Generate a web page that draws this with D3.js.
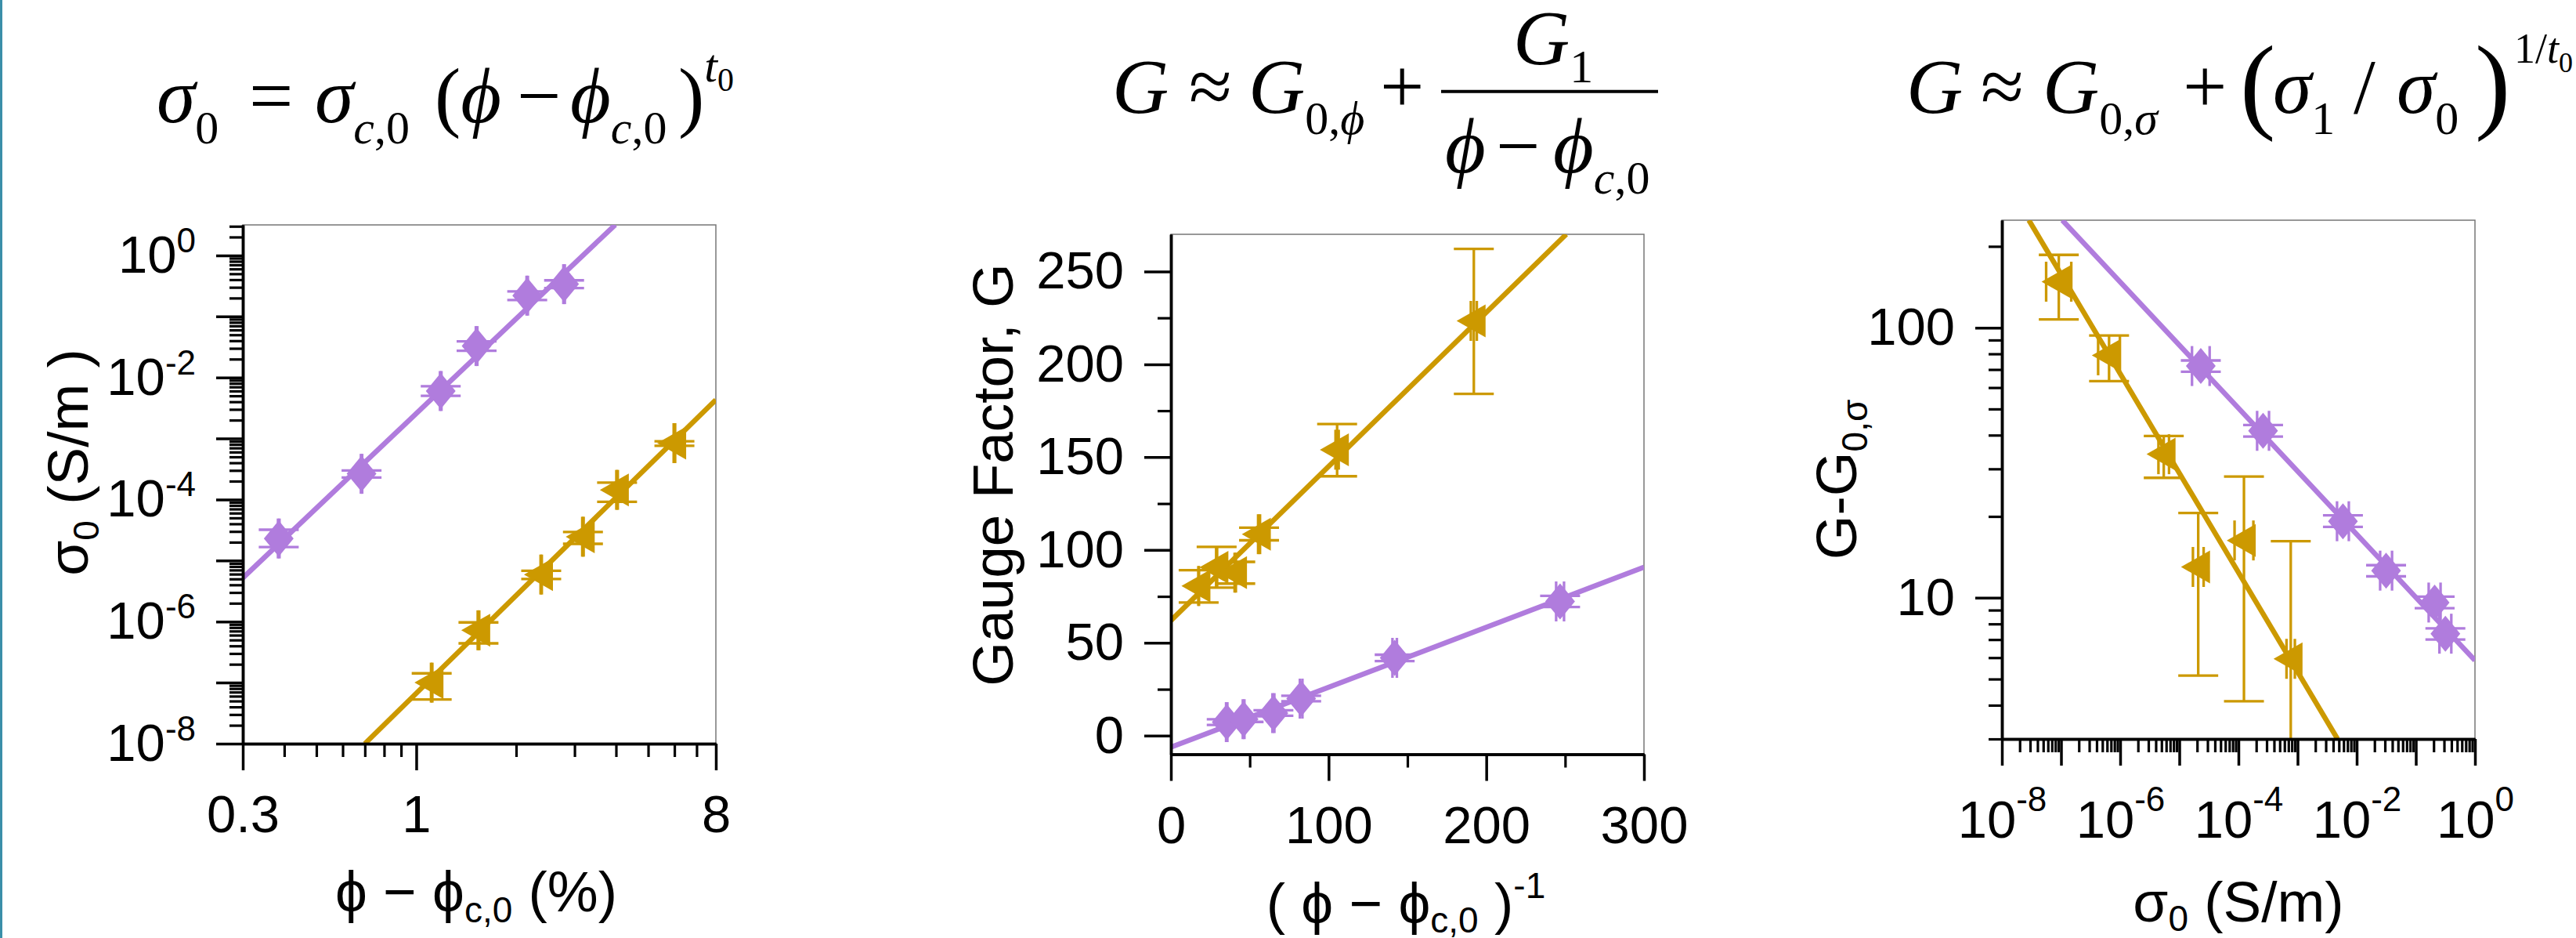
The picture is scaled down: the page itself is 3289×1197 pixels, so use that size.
<!DOCTYPE html>
<html>
<head>
<meta charset="utf-8">
<script src="https://cdn.jsdelivr.net/npm/d3@7"></script>
<style>
  body { margin: 0; background: #fff; }
  svg { display: block; }
</style>
</head>
<body>
<div id="chart"></div>
<script>
// three-panel percolation figure: sigma_0 fit, gauge factor vs 1/(phi-phic), G-G0 vs sigma_0

// ===== data =====
// rows: [x, xLo, xHi, y, yLo, yHi]

// panel A: sigma_0 (S/m) vs phi - phi_c0 (%)
const aPurple = [
  [0.385, 0.383, 0.387, 2.3e-5, 1.66e-5, 3.2e-5],
  [0.684, 0.681, 0.687, 2.64e-4, 2.3e-4, 3.0e-4],
  [1.185, 1.179, 1.191, 6.0e-3, 5.0e-3, 7.2e-3],
  [1.52, 1.512, 1.528, 0.0327, 0.0274, 0.039],
  [2.16, 2.15, 2.17, 0.219, 0.186, 0.257],
  [2.79, 2.776, 2.804, 0.338, 0.292, 0.39]
];
const aGold = [
  [1.113, 1.108, 1.118, 1.0e-7, 5.3e-8, 1.42e-7],
  [1.54, 1.532, 1.548, 7.2e-7, 4.4e-7, 9.7e-7],
  [2.38, 2.37, 2.39, 5.9e-6, 5.0e-6, 6.8e-6],
  [3.18, 3.165, 3.195, 2.46e-5, 1.88e-5, 2.94e-5],
  [4.03, 4.01, 4.05, 1.44e-4, 9.2e-5, 1.89e-4],
  [6.0, 5.97, 6.03, 8.4e-4, 7.6e-4, 9.0e-4]
];
const aPurpleFit = [[0.3, 5.18e-6], [3.98, 3.18]];
const aGoldFit = [[0.70, 1e-8], [8, 4.3e-3]];
const aXLabels = [0.3, 1, 8];
const aYDecades = [1e-8, 1e-7, 1e-6, 1e-5, 1e-4, 1e-3, 1e-2, 1e-1, 1];
const aYLabels = [1e-8, 1e-6, 1e-4, 1e-2, 1];

// panel B: gauge factor G vs (phi - phi_c0)^-1
const bPurple = [
  [35.4, 35.0, 35.8, 7.3, 5.8, 8.8],
  [46.1, 45.6, 46.6, 8.9, 7.4, 10.4],
  [65.0, 64.4, 65.6, 12.2, 10.7, 13.7],
  [82.6, 81.8, 83.4, 20.0, 18.5, 21.5],
  [141.9, 140.5, 143.3, 41.9, 40.2, 43.6],
  [246.8, 244.3, 249.3, 72.3, 69.3, 75.3]
];
const bGold = [
  [17.6, 17.4, 17.8, 80.6, 71.7, 89.1],
  [29.0, 28.7, 29.3, 90.7, 79.7, 101.7],
  [40.8, 40.4, 41.2, 87.8, 81.9, 93.6],
  [55.9, 55.3, 56.5, 108.5, 105.2, 112.0],
  [105.4, 104.4, 106.4, 154.0, 139.7, 167.8],
  [192.1, 190.2, 194.0, 223.4, 184.1, 262.1]
];
const bPurpleFit = [[0, -6.2], [300, 90.7]];
const bGoldFit = [[0, 62.0], [250.7, 270]];
const bXMajor = [0, 100, 200, 300];
const bXMinor = [50, 150, 250];
const bYMajor = [0, 50, 100, 150, 200, 250];
const bYMinor = [25, 75, 125, 175, 225];

// panel C: G - G0,sigma vs sigma_0 (S/m)
const cPurple = [
  [2.31e-5, 1.64e-5, 3.26e-5, 72.1, 68.7, 75.6],
  [2.61e-4, 2.07e-4, 3.29e-4, 41.5, 39.5, 43.6],
  [5.85e-3, 4.65e-3, 7.36e-3, 19.2, 18.3, 20.2],
  [3.14e-2, 2.49e-2, 3.96e-2, 12.6, 12.0, 13.2],
  [0.208, 0.165, 0.262, 9.6, 9.15, 10.1],
  [0.316, 0.251, 0.398, 7.36, 7.0, 7.7]
];
const cGold = [
  [9.16e-8, 5.6e-8, 1.49e-7, 148, 107.3, 186],
  [6.49e-7, 4.24e-7, 9.9e-7, 79, 63.4, 93.5],
  [5.46e-6, 4.44e-6, 6.7e-6, 34.0, 27.8, 39.7],
  [2.09e-5, 1.70e-5, 2.58e-5, 13.0, 5.15, 20.6],
  [1.24e-4, 8.6e-5, 1.79e-4, 16.3, 4.14, 28.1],
  [7.67e-4, 6.5e-4, 9.0e-4, 5.94, 2.0, 16.2]
];
const cPurpleFit = [[1.05e-7, 250], [1, 5.86]];
const cGoldFit = [[2.86e-8, 250], [4.74e-3, 3]];
const cXDecades = [1e-8, 1e-7, 1e-6, 1e-5, 1e-4, 1e-3, 1e-2, 1e-1, 1];
const cXLabels = [1e-8, 1e-6, 1e-4, 1e-2, 1];
const cYLabels = [10, 100];

// ===== styling =====
const W = 3289, H = 1197;
const PURPLE = "#b07cdd", GOLD = "#cc9900";
const SANS = "'Liberation Sans', Arial, sans-serif";
const SERIF = "'Liberation Serif', 'Times New Roman', serif";
const TICK_FS = 67, TITLE_FS = 73;
const MAJOR = 34, MINOR = 17;

const svg = d3.select("#chart").append("svg")
  .attr("width", W).attr("height", H)
  .style("background", "#fff");

// thin teal rule at the left edge
svg.append("line")
  .attr("x1", 1.5).attr("x2", 1.5).attr("y1", 0).attr("y2", H)
  .attr("stroke", "#3b8fa9").attr("stroke-width", 3);

// ---- helpers ----
function styleAxis(a, width) {
  a.attr("font-family", SANS).attr("font-size", TICK_FS);
  a.select(".domain").attr("stroke-width", 3.5).attr("stroke", "#000");
  a.selectAll(".tick line").attr("stroke-width", width || 3.5).attr("stroke", "#000");
  a.selectAll(".tick text").attr("fill", "#000");
  return a;
}

function powerLabel(sel, labelled, supDy) {
  sel.selectAll(".tick text").each(function (d) {
    const t = d3.select(this);
    t.text(null);
    if (!labelled.some(v => Math.abs(Math.log10(v) - Math.log10(d)) < 1e-6)) return;
    t.append("tspan").text("10");
    t.append("tspan").attr("font-size", 44).attr("dy", supDy).text(Math.round(Math.log10(d)));
  });
}

function isDecade(v) {
  const l = Math.log10(v);
  return Math.abs(l - Math.round(l)) < 1e-6;
}

function makePanel(o) {
  const g = svg.append("g");
  const x = o.x.range([o.left, o.right]);
  const y = o.y.range([o.bottom, o.top]);

  g.append("clipPath").attr("id", o.id)
    .append("rect")
    .attr("x", o.left).attr("y", o.top)
    .attr("width", o.right - o.left).attr("height", o.bottom - o.top);

  // thin grey frame (top / right)
  g.append("rect")
    .attr("x", o.left).attr("y", o.top)
    .attr("width", o.right - o.left).attr("height", o.bottom - o.top)
    .attr("fill", "none").attr("stroke", "#777").attr("stroke-width", 1.5);

  const plot = g.append("g").attr("clip-path", `url(#${o.id})`);
  return { g, x, y, plot };
}

function drawSeries(p, rows, fit, color, shape) {
  const { x, y, plot } = p;
  const line = d3.line().x(d => x(d[0])).y(d => y(d[1]));

  plot.append("path")
    .datum(fit)
    .attr("d", line)
    .attr("fill", "none")
    .attr("stroke", color)
    .attr("stroke-width", 6.5);

  const cap = 25.5;
  const eb = plot.append("g").attr("stroke", color).attr("stroke-width", 3.3).attr("fill", "none");
  const pts = eb.selectAll("g").data(rows).join("g");

  // y error bars with horizontal caps
  pts.append("line")
    .attr("x1", d => x(d[0])).attr("x2", d => x(d[0]))
    .attr("y1", d => y(d[4])).attr("y2", d => y(d[5]));
  pts.append("line")
    .attr("x1", d => x(d[0]) - cap).attr("x2", d => x(d[0]) + cap)
    .attr("y1", d => y(d[4])).attr("y2", d => y(d[4]));
  pts.append("line")
    .attr("x1", d => x(d[0]) - cap).attr("x2", d => x(d[0]) + cap)
    .attr("y1", d => y(d[5])).attr("y2", d => y(d[5]));

  // x error bars with vertical caps
  pts.append("line")
    .attr("x1", d => x(d[1])).attr("x2", d => x(d[2]))
    .attr("y1", d => y(d[3])).attr("y2", d => y(d[3]));
  pts.append("line")
    .attr("x1", d => x(d[1])).attr("x2", d => x(d[1]))
    .attr("y1", d => y(d[3]) - cap).attr("y2", d => y(d[3]) + cap);
  pts.append("line")
    .attr("x1", d => x(d[2])).attr("x2", d => x(d[2]))
    .attr("y1", d => y(d[3]) - cap).attr("y2", d => y(d[3]) + cap);

  const shapePath = shape === "diamond"
    ? "M0,-23L19,0L0,23L-19,0Z"
    : "M-22,0L15,-21L15,21Z";

  plot.append("g").selectAll("path")
    .data(rows)
    .join("path")
    .attr("d", shapePath)
    .attr("transform", d => `translate(${x(d[0])},${y(d[3])})`)
    .attr("fill", color);
}

// ===== panel A =====
const pA = makePanel({
  id: "clipA", left: 310, right: 914, top: 287, bottom: 949,
  x: d3.scaleLog().domain([0.3, 8]),
  y: d3.scaleLog().domain([1e-8, 3.16])
});
drawSeries(pA, aPurple, aPurpleFit, PURPLE, "diamond");
drawSeries(pA, aGold, aGoldFit, GOLD, "triangle");

// x axis
styleAxis(pA.g.append("g").attr("transform", "translate(0,949)")
  .call(d3.axisBottom(pA.x)
    .tickValues(pA.x.ticks().filter(v => !aXLabels.some(l => Math.abs(l - v) < 1e-9)))
    .tickSize(MINOR).tickSizeOuter(0).tickFormat("")), 3.2);
styleAxis(pA.g.append("g").attr("transform", "translate(0,949)")
  .call(d3.axisBottom(pA.x).tickValues(aXLabels).tickSize(MAJOR).tickSizeOuter(0)
    .tickPadding(31).tickFormat(d3.format("~g"))));
// y axis
styleAxis(pA.g.append("g").attr("transform", "translate(310,0)")
  .call(d3.axisLeft(pA.y).tickValues(pA.y.ticks().filter(v => !isDecade(v)))
    .tickSize(MINOR).tickSizeOuter(0).tickFormat("")), 3.2);
const aY = styleAxis(pA.g.append("g").attr("transform", "translate(310,0)")
  .call(d3.axisLeft(pA.y).tickValues(aYDecades).tickSize(MAJOR).tickSizeOuter(0).tickPadding(26)));
powerLabel(aY, aYLabels, -26);

// ===== panel B =====
const pB = makePanel({
  id: "clipB", left: 1495, right: 2099, top: 299, bottom: 962.5,
  x: d3.scaleLinear().domain([0, 300]),
  y: d3.scaleLinear().domain([-10, 270])
});
drawSeries(pB, bPurple, bPurpleFit, PURPLE, "diamond");
drawSeries(pB, bGold, bGoldFit, GOLD, "triangle");

styleAxis(pB.g.append("g").attr("transform", "translate(0,962.5)")
  .call(d3.axisBottom(pB.x).tickValues(bXMinor).tickSize(MINOR).tickSizeOuter(0).tickFormat("")), 3.2);
styleAxis(pB.g.append("g").attr("transform", "translate(0,962.5)")
  .call(d3.axisBottom(pB.x).tickValues(bXMajor).tickSize(MAJOR).tickSizeOuter(0).tickPadding(32)));
styleAxis(pB.g.append("g").attr("transform", "translate(1495,0)")
  .call(d3.axisLeft(pB.y).tickValues(bYMinor).tickSize(MINOR).tickSizeOuter(0).tickFormat("")), 3.2);
styleAxis(pB.g.append("g").attr("transform", "translate(1495,0)")
  .call(d3.axisLeft(pB.y).tickValues(bYMajor).tickSize(MAJOR).tickSizeOuter(0).tickPadding(26)));

// ===== panel C =====
const pC = makePanel({
  id: "clipC", left: 2556, right: 3160, top: 281, bottom: 943,
  x: d3.scaleLog().domain([1e-8, 1]),
  y: d3.scaleLog().domain([3, 250])
});
drawSeries(pC, cPurple, cPurpleFit, PURPLE, "diamond");
drawSeries(pC, cGold, cGoldFit, GOLD, "triangle");

styleAxis(pC.g.append("g").attr("transform", "translate(0,943)")
  .call(d3.axisBottom(pC.x).tickValues(pC.x.ticks().filter(v => !isDecade(v)))
    .tickSize(MINOR).tickSizeOuter(0).tickFormat("")), 3.2);
const cX = styleAxis(pC.g.append("g").attr("transform", "translate(0,943)")
  .call(d3.axisBottom(pC.x).tickValues(cXDecades).tickSize(MAJOR).tickSizeOuter(0).tickPadding(44)));
powerLabel(cX, cXLabels, -34);
styleAxis(pC.g.append("g").attr("transform", "translate(2556,0)")
  .call(d3.axisLeft(pC.y).tickValues(pC.y.ticks().filter(v => !isDecade(v)))
    .tickSize(MINOR).tickSizeOuter(0).tickFormat("")), 3.2);
styleAxis(pC.g.append("g").attr("transform", "translate(2556,0)")
  .call(d3.axisLeft(pC.y).tickValues(cYLabels).tickSize(MAJOR).tickSizeOuter(0).tickPadding(26)
    .tickFormat(d3.format("d"))));

// ===== axis titles =====
function label(parent, attrs, parts) {
  const t = parent.append("text")
    .attr("font-family", SANS).attr("font-size", TITLE_FS).attr("fill", "#000");
  Object.entries(attrs).forEach(([k, v]) => t.attr(k, v));
  parts.forEach(p => {
    const s = t.append("tspan").text(p.t);
    if (p.fs) s.attr("font-size", p.fs);
    if (p.dy) s.attr("dy", p.dy);
    if (p.x !== undefined) s.attr("x", p.x);
    if (p.it) s.attr("font-style", "italic");
  });
  return t;
}

// y titles
label(svg, { transform: "translate(112,590) rotate(-90)", "text-anchor": "middle" },
  [{ t: "σ" }, { t: "0", fs: 46, dy: 14 }, { t: " (S/m )", dy: -14 }]);
label(svg, { transform: "translate(1293,606) rotate(-90)", "text-anchor": "middle" },
  [{ t: "Gauge Factor, G" }]);
label(svg, { transform: "translate(2370,612) rotate(-90)", "text-anchor": "middle" },
  [{ t: "G-G" }, { t: "0,σ", fs: 46, dy: 14 }]);

// x titles
label(svg, { x: 608, y: 1163, "text-anchor": "middle" },
  [{ t: "ϕ − ϕ" }, { t: "c,0", fs: 46, dy: 14 }, { t: " (%)", dy: -14 }]);
label(svg, { x: 1795, y: 1178, "text-anchor": "middle" },
  [{ t: "( ϕ − ϕ" }, { t: "c,0", fs: 46, dy: 12 }, { t: " )", dy: -12 }, { t: "-1", fs: 46, dy: -32 }]);
label(svg, { x: 2858, y: 1176, "text-anchor": "middle" },
  [{ t: "σ" }, { t: "0", fs: 46, dy: 12 }, { t: " (S/m)", dy: -12 }]);

// ===== equation titles =====
function eq(parts, x, y, fs) {
  const t = svg.append("text")
    .attr("x", x).attr("y", y)
    .attr("font-family", SERIF).attr("font-size", fs || 100).attr("fill", "#000");
  parts.forEach(p => {
    const s = t.append("tspan").text(p.t);
    if (p.x !== undefined) s.attr("x", p.x);
    if (p.dy) s.attr("dy", p.dy);
    if (p.fs) s.attr("font-size", p.fs);
    if (p.it) s.attr("font-style", "italic");
  });
  return t;
}

// sigma_0 = sigma_c,0 (phi - phi_c,0)^t0
eq([
  { t: "σ", it: 1, x: 200 },
  { t: "0", fs: 60, dy: 27 },
  { t: "=", x: 318, dy: -27 },
  { t: "σ", it: 1, x: 402 },
  { t: "c", it: 1, fs: 60, dy: 27 }, { t: ",0", fs: 60 },
  { t: "(", x: 555, dy: -27 },
  { t: "ϕ", it: 1 },
  { t: "−", x: 660 },
  { t: "ϕ", it: 1, x: 728 },
  { t: "c", it: 1, fs: 60, dy: 27 }, { t: ",0", fs: 60 },
  { t: ")", x: 866, dy: -27 },
  { t: "t", it: 1, fs: 60, dy: -52 }, { t: "0", fs: 42, dy: 12 }
], 200, 156);

// G ~ G0,phi + G1 / (phi - phi_c,0)
eq([
  { t: "G", it: 1, x: 1420 },
  { t: "≈", x: 1518 },
  { t: "G", it: 1, x: 1594 },
  { t: "0,", fs: 60, dy: 27 }, { t: "ϕ", it: 1, fs: 60 },
  { t: "+", x: 1762, dy: -27 }
], 1420, 143.5);
svg.append("line")
  .attr("x1", 1840).attr("x2", 2117).attr("y1", 116.7).attr("y2", 116.7)
  .attr("stroke", "#000").attr("stroke-width", 4);
eq([{ t: "G", it: 1, x: 1932 }, { t: "1", fs: 60, dy: 23 }], 1932, 82);
eq([
  { t: "ϕ", it: 1, x: 1845 },
  { t: "−", x: 1910 },
  { t: "ϕ", it: 1, x: 1983 },
  { t: "c", it: 1, fs: 60, dy: 27 }, { t: ",0", fs: 60 }
], 1845, 220);

// G ~ G0,sigma + (sigma1 / sigma0)^(1/t0)
eq([
  { t: "G", it: 1, x: 2434 },
  { t: "≈", x: 2529 },
  { t: "G", it: 1, x: 2608 },
  { t: "0,", fs: 60, dy: 27 }, { t: "σ", it: 1, fs: 60 },
  { t: "+", x: 2787, dy: -27 },
  { t: "σ", it: 1, x: 2902 },
  { t: "1", fs: 60, dy: 27 },
  { t: "/", x: 3005, dy: -27 },
  { t: "σ", it: 1, x: 3060 },
  { t: "0", fs: 60, dy: 27 }
], 2434, 143.5);
eq([{ t: "(", x: 2860 }], 2860, 152, 136);
eq([{ t: ")", x: 3160 }], 3160, 152, 136);
eq([
  { t: "1/", x: 3210, fs: 54 },
  { t: "t", it: 1, fs: 54 },
  { t: "0", fs: 36, dy: 12 }
], 3210, 80);
</script>
</body>
</html>
